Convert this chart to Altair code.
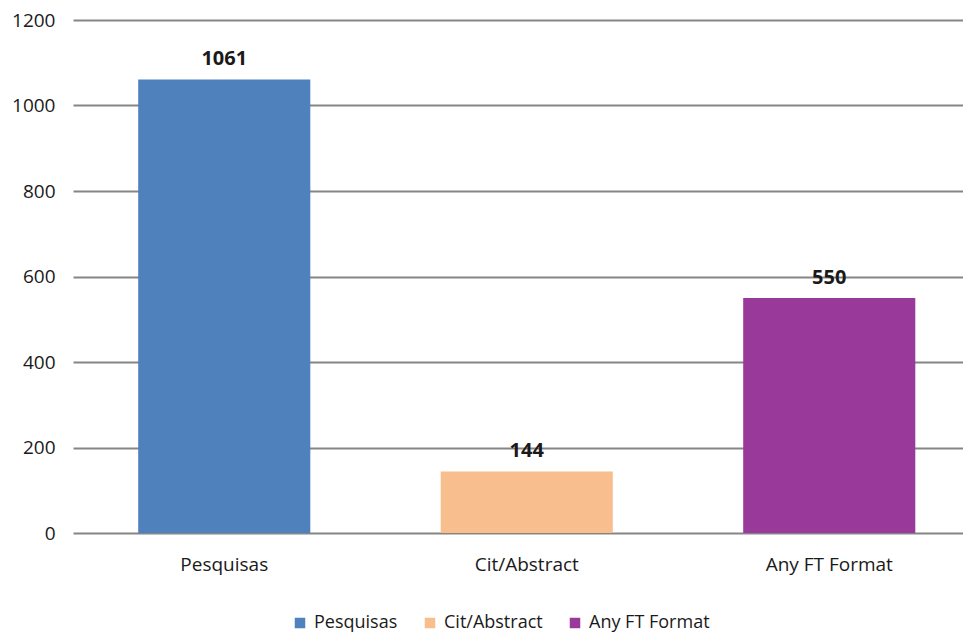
import altair as alt
import pandas as pd

categories = ["Pesquisas", "Cit/Abstract", "Any FT Format"]
values = [1061, 144, 550]
colors = ["#4F81BD", "#F9BE8E", "#993A9A"]
y_ticks = [0, 200, 400, 600, 800, 1000, 1200]

df = pd.DataFrame({"category": categories, "value": values})

FONT = "Open Sans"
TXT = "#1a1a1a"

x_enc = alt.X(
    "category:N",
    sort=categories,
    title=None,
    scale=alt.Scale(range=[0, 907.5], paddingInner=0.431, paddingOuter=0.2155),
    axis=alt.Axis(
        labelAngle=0, labelFont=FONT, labelFontSize=19, labelColor=TXT,
        labelPadding=22, ticks=False, domain=False, grid=False,
    ),
)
y_enc = alt.Y(
    "value:Q",
    title=None,
    scale=alt.Scale(domain=[0, 1200], nice=False),
    axis=alt.Axis(
        values=y_ticks, format="d", labelFont=FONT, labelFontSize=19, labelColor=TXT,
        labelPadding=18, ticks=False, domain=False, grid=True,
        gridColor="#858585", gridWidth=1.8,
    ),
)

color_enc = alt.Color(
    "category:N",
    sort=categories,
    scale=alt.Scale(domain=categories, range=colors),
    legend=alt.Legend(
        orient="none", legendX=218, legendY=594, direction="horizontal",
        title=None, symbolType="square", symbolSize=110, symbolStrokeWidth=0,
        labelFont=FONT, labelFontSize=18, labelColor=TXT, labelOffset=5,
        columnPadding=23, padding=0, labelBaseline="middle",
    ),
)

bars = alt.Chart(df).mark_bar(opacity=1).encode(x=x_enc, y=y_enc, color=color_enc)

labels = alt.Chart(df).mark_text(
    dy=-20, font=FONT, fontSize=20, fontWeight="bold", color=TXT, baseline="middle"
).encode(x=alt.X("category:N", sort=categories), y="value:Q", text="value:Q")

chart = (
    alt.layer(bars, labels)
    .properties(
        width=890, height=513,
        autosize=alt.AutoSizeParams(type="none"),
        padding={"left": 65, "top": 12, "right": 0, "bottom": 100},
        background="white",
    )
    .configure_view(stroke=None)
)

chart.save("out.html", embed_options={"renderer": "svg", "actions": False})
